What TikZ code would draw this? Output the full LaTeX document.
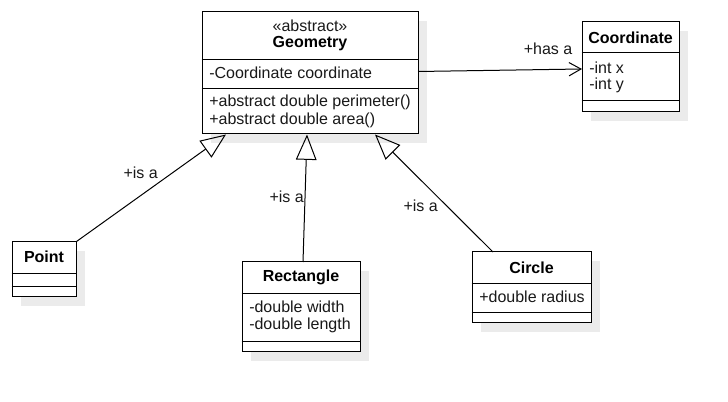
\documentclass[tikz,border=0pt]{standalone}
\usepackage{fontspec}
\setmainfont{Liberation Sans}
\usetikzlibrary{arrows.meta,shadows}
\begin{document}
\begin{tikzpicture}[x=0.75pt,y=-0.75pt,
  font=\fontsize{12pt}{14pt}\selectfont,
  box/.style={draw=black,line width=0.75pt,fill=white,inner sep=0pt,
    drop shadow={shadow xshift=6.5pt,shadow yshift=-6.5pt,fill=black!8,opacity=1}},
  txt/.style={anchor=west,inner sep=0pt,text=black!90},
  ttl/.style={anchor=center,inner sep=0pt,font=\fontsize{12pt}{14pt}\selectfont\bfseries},
  sep/.style={line width=0.75pt},
  inh/.style={line width=0.75pt,-{Triangle[open,length=19pt,width=15.5pt,line width=0.75pt]}},
  assoc/.style={line width=0.75pt,-{Straight Barb[length=9pt,width=10pt,line width=0.75pt]}},
  lbl/.style={inner sep=0pt,anchor=center,text=black!90}]
\useasboundingbox (0,0) rectangle (728,402);
\fill[white] (0,0) rectangle (728,402);
% Geometry
\node[box,minimum width=162pt,minimum height=91.5pt] (geo) at (310,73) {};
\draw[sep] (geo.west |- 0,60) -- (geo.east |- 0,60);
\draw[sep] (geo.west |- 0,89) -- (geo.east |- 0,89);
\node[lbl] (geost) at (310,26) {«abstract»};
\node[ttl] (geot) at (310,44) {Geometry};
\node[txt] (geoa) at (209,73) {-Coordinate coordinate};
\node[txt] (geom1) at (209,102) {+abstract double perimeter()};
\node[txt] (geom2) at (209,120) {+abstract double area()};
% Coordinate
\node[box,minimum width=72.75pt,minimum height=67.5pt] (coord) at (630.5,67) {};
\draw[sep] (coord.west |- 0,53) -- (coord.east |- 0,53);
\draw[sep] (coord.west |- 0,101) -- (coord.east |- 0,101);
\node[ttl] (coordt) at (630.5,38) {Coordinate};
\node[txt] (coordx) at (589,67.5) {-int x};
\node[txt] (coordy) at (589,85.5) {-int y};
% Point
\node[box,minimum width=48pt,minimum height=41.25pt] (point) at (44,269.5) {};
\draw[sep] (point.west |- 0,273.3) -- (point.east |- 0,273.3);
\draw[sep] (point.west |- 0,286.7) -- (point.east |- 0,286.7);
\node[ttl] (pointt) at (44,257) {Point};
% Rectangle
\node[box,minimum width=88.5pt,minimum height=67.5pt] (rect) at (301,307) {};
\draw[sep] (rect.west |- 0,293.3) -- (rect.east |- 0,293.3);
\draw[sep] (rect.west |- 0,341.3) -- (rect.east |- 0,341.3);
\node[ttl] (rectt) at (301,277.5) {Rectangle};
\node[txt] (rectw) at (249,306.5) {-double width};
\node[txt] (rectl) at (249,325.5) {-double length};
% Circle
\node[box,minimum width=89.25pt,minimum height=53.25pt] (circ) at (531.5,287.5) {};
\draw[sep] (circ.west |- 0,283.3) -- (circ.east |- 0,283.3);
\draw[sep] (circ.west |- 0,312.3) -- (circ.east |- 0,312.3);
\node[ttl] (circt) at (531.5,267.3) {Circle};
\node[txt] (circr) at (479,297) {+double radius};
% connector end points
\coordinate (g1) at (226,134.5);
\coordinate (g2) at (307,134.5);
\coordinate (g3) at (375,134.5);
\coordinate (rtop) at (303,262);
\coordinate (ctop) at (493,252);
\coordinate (gout) at (418,71.5);
\coordinate (cin) at (582,69);
% connectors
\draw[inh] (point.north east) -- (g1);
\draw[inh] (rtop) -- (g2);
\draw[inh] (ctop) -- (g3);
\draw[assoc] (gout) -- (cin);
% labels
\node[lbl] (l1) at (140.7,173) {+is a};
\node[lbl] (l2) at (286.7,196.7) {+is a};
\node[lbl] (l3) at (420.7,205.7) {+is a};
\node[lbl] (l4) at (548,49) {+has a};
\end{tikzpicture}
\end{document}
